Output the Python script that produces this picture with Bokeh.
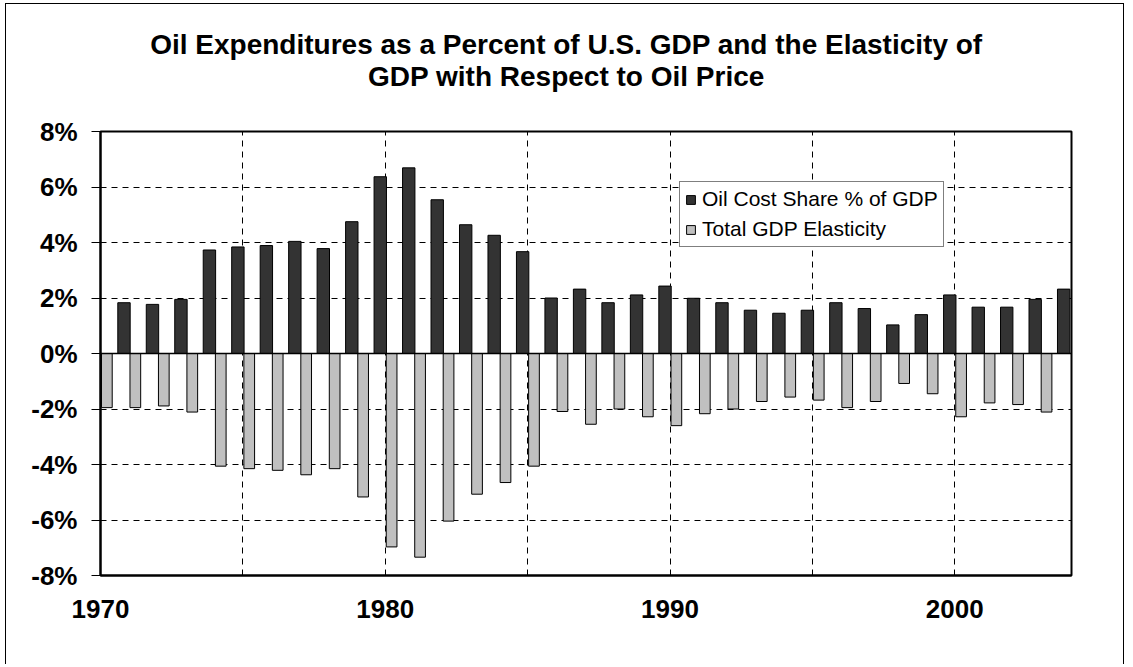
from bokeh.plotting import figure
from bokeh.layouts import column
from bokeh.models import (ColumnDataSource, FixedTicker, Span, Legend,
                          LegendItem, Range1d, PrintfTickFormatter)
from bokeh.core.properties import value
from bokeh.transform import dodge
from bokeh.embed import file_html
from bokeh.resources import INLINE

# ---- data ----
years = list(range(1970, 2004))
oil_share = [1.83, 1.77, 1.95, 3.73, 3.84, 3.89, 4.04, 3.78, 4.75, 6.37,
             6.69, 5.54, 4.64, 4.26, 3.67, 2.00, 2.32, 1.83, 2.11, 2.43,
             1.99, 1.83, 1.56, 1.45, 1.56, 1.83, 1.62, 1.03, 1.40, 2.11,
             1.67, 1.67, 1.95, 2.32]
elasticity = [-1.95, -1.95, -1.89, -2.11, -4.06, -4.15, -4.21, -4.37, -4.15, -5.17,
              -6.97, -7.34, -6.04, -5.07, -4.65, -4.06, -2.09, -2.55, -2.00, -2.28,
              -2.60, -2.17, -2.00, -1.73, -1.57, -1.68, -1.95, -1.73, -1.08, -1.45,
              -2.28, -1.78, -1.84, -2.11]
y_ticks = [-8, -6, -4, -2, 0, 2, 4, 6, 8]
x_ticks = [1970, 1975, 1980, 1985, 1990, 1995, 2000]
x_labels = {1970: "1970", 1975: "", 1980: "1980", 1985: "", 1990: "1990", 1995: "", 2000: "2000"}
title_lines = ["Oil Expenditures as a Percent of U.S. GDP and the Elasticity of",
               "GDP with Respect to Oil Price"]
series_names = ["Oil Cost Share % of GDP", "Total GDP Elasticity"]

FONT = "Liberation Sans"
W = 1117

# ---- title strip ----
t = figure(width=W, height=100, x_range=Range1d(0, W), y_range=Range1d(0, 100),
           output_backend="svg", toolbar_location=None, min_border=0,
           x_axis_type=None, y_axis_type=None, title=None)
t.outline_line_color = None
t.background_fill_color = "white"
t.border_fill_color = "white"
tsrc = ColumnDataSource(dict(x=[536, 536], y=[60, 28], text=title_lines))
t.text(x="x", y="y", text="text", source=tsrc, text_font=value(FONT),
       text_font_style="bold", text_font_size="28px", text_align="center",
       text_baseline="middle", text_color="black")

# ---- main chart ----
src = ColumnDataSource(dict(year=years, oil=oil_share, ela=elasticity))

p = figure(width=W, height=560,
           x_range=Range1d(1970, 2004.1), y_range=Range1d(-8, 8),
           output_backend="svg", toolbar_location=None,
           min_border_left=94, min_border_right=52,
           min_border_top=27, min_border_bottom=89, title=None)
p.background_fill_color = "white"
p.border_fill_color = "white"
p.outline_line_color = "black"
p.outline_line_width = 2

p.xgrid.ticker = FixedTicker(ticks=x_ticks)
p.ygrid.ticker = FixedTicker(ticks=y_ticks)
for g in (p.xgrid, p.ygrid):
    g.grid_line_color = "black"
    g.grid_line_dash = "6 5"
    g.grid_line_width = 1

gray = p.vbar(x=dodge("year", 0.223, range=p.x_range), top="ela", bottom=0, width=0.376,
              source=src, fill_color="#C0C0C0", line_color="black", line_width=1)
dark = p.vbar(x=dodge("year", 0.825, range=p.x_range), top="oil", bottom=0, width=0.435,
              source=src, fill_color="#333333", line_color="black", line_width=1)

p.add_layout(Span(location=0, dimension="width", line_color="black", line_width=1.5))

p.yaxis.ticker = FixedTicker(ticks=y_ticks)
p.yaxis.formatter = PrintfTickFormatter(format="%d%%")
p.yaxis.major_tick_out = 9
p.yaxis.major_tick_in = 0
p.yaxis.minor_tick_out = 0
p.yaxis.minor_tick_in = 0
p.yaxis.major_label_standoff = 14
p.xaxis.ticker = FixedTicker(ticks=x_ticks)
p.xaxis.major_label_overrides = x_labels
p.xaxis.major_tick_out = 0
p.xaxis.major_tick_in = 5
p.xaxis.minor_tick_out = 0
p.xaxis.minor_tick_in = 0
p.xaxis.major_label_standoff = 24
for ax in (p.xaxis, p.yaxis):
    ax.axis_line_color = "black"
    ax.axis_line_width = 2
    ax.major_tick_line_color = "black"
    ax.major_label_text_font = FONT
    ax.major_label_text_font_style = "bold"
    ax.major_label_text_font_size = "26px"
    ax.major_label_text_color = "black"

legend = Legend(items=[LegendItem(label=series_names[0], renderers=[dark]),
                       LegendItem(label=series_names[1], renderers=[gray])],
                location=(579, 328))
legend.border_line_color = "black"
legend.border_line_width = 1
legend.background_fill_color = "white"
legend.background_fill_alpha = 1
legend.label_text_font = FONT
legend.label_text_font_size = "21px"
legend.label_text_color = "black"
legend.glyph_width = 11
legend.glyph_height = 11
legend.label_standoff = 6
legend.padding = 5
legend.spacing = 6
legend.label_height = 24
legend.margin = 0
p.add_layout(legend, "center")

layout = column(t, p, spacing=0)
layout.styles = {"margin-left": "5px", "margin-top": "3px",
                 "border-left": "1px solid black", "border-top": "1px solid black",
                 "border-right": "1px solid black"}

open("out.html", "w").write(file_html(layout, INLINE))
